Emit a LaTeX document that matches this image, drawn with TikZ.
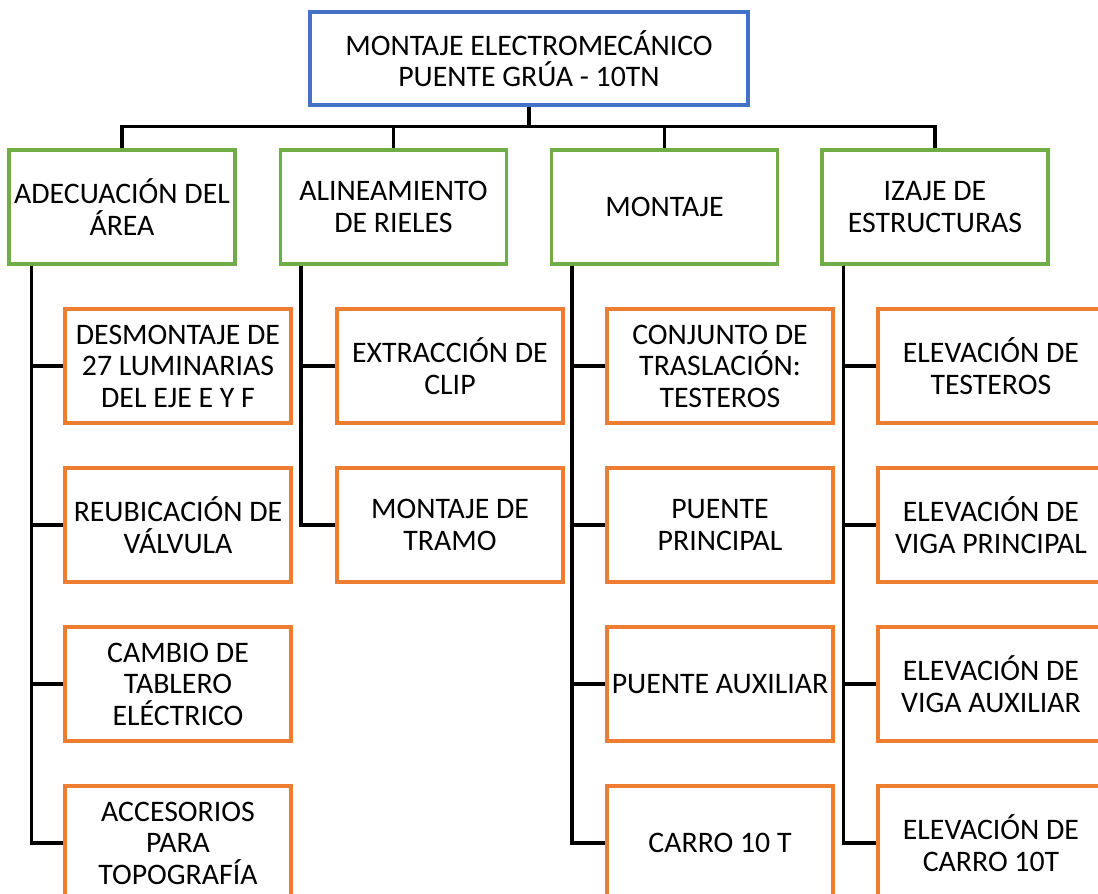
\documentclass[tikz,border=0pt]{standalone}
\usepackage{fontspec}
\setmainfont{Carlito}
\usepackage{tikz}
\usetikzlibrary{calc}

\definecolor{topblue}{HTML}{4472C4}
\definecolor{lvlgreen}{HTML}{70AD47}
\definecolor{taskorange}{HTML}{ED7D31}

\begin{document}
\begin{tikzpicture}[x=1pt, y=-1pt, line width=3.2pt,
    box/.style = {draw, rectangle, align=center, inner sep=2pt, fill=white,
        font=\fontsize{29.8pt}{31.5pt}\selectfont},
    head/.style = {box, draw=topblue, minimum width=438, minimum height=93},
    phase/.style = {box, draw=lvlgreen, minimum width=226, minimum height=114},
    task/.style = {box, draw=taskorange, minimum width=226, minimum height=114}]

    \clip (0,0) rectangle (1098,894);

    \node [head] (0) at (529, 58.5) {MONTAJE ELECTROMECÁNICO\\PUENTE GRÚA - 10TN};

    \node [phase] (1) at (122, 207) {ADECUACIÓN DEL\\ÁREA};
    \node [phase] (2) at (393.5, 207) {ALINEAMIENTO\\DE RIELES};
    \node [phase] (3) at (664.5, 207) {MONTAJE};
    \node [phase] (4) at (935, 207) {IZAJE DE\\ESTRUCTURAS};

    \node [task] (11) at (178, 366) {DESMONTAJE DE\\27 LUMINARIAS\\DEL EJE E Y F};
    \node [task] (12) at (178, 525) {REUBICACIÓN DE\\VÁLVULA};
    \node [task] (13) at (178, 684) {CAMBIO DE\\TABLERO\\ELÉCTRICO};
    \node [task] (14) at (178, 843) {ACCESORIOS\\PARA\\TOPOGRAFÍA};

    \node [task] (21) at (450, 366) {EXTRACCIÓN DE\\CLIP};
    \node [task] (22) at (450, 525) {MONTAJE DE\\TRAMO};

    \node [task] (31) at (720, 366) {CONJUNTO DE\\TRASLACIÓN:\\TESTEROS};
    \node [task] (32) at (720, 525) {PUENTE\\PRINCIPAL};
    \node [task] (33) at (720, 684) {PUENTE AUXILIAR};
    \node [task] (34) at (720, 843) {CARRO 10 T};

    \node [task] (41) at (991, 366) {ELEVACIÓN DE\\TESTEROS};
    \node [task] (42) at (991, 525) {ELEVACIÓN DE\\VIGA PRINCIPAL};
    \node [task] (43) at (991, 684) {ELEVACIÓN DE\\VIGA AUXILIAR};
    \node [task] (44) at (991, 843) {ELEVACIÓN DE\\CARRO 10T};

    % top level bus
    \draw (1.north) -- ++(0,-22) -| (0.south);
    \draw (2.north) -- ++(0,-22) -| (0.south);
    \draw (3.north) -- ++(0,-22) -| (0.south);
    \draw (4.north) -- ++(0,-22) -| (0.south);

    % branches
    \draw ([xshift=24]1.south west) |- (11.west);
    \draw ([xshift=24]1.south west) |- (12.west);
    \draw ([xshift=24]1.south west) |- (13.west);
    \draw ([xshift=24]1.south west) |- (14.west);

    \draw ([xshift=22]2.south west) |- (21.west);
    \draw ([xshift=22]2.south west) |- (22.west);

    \draw ([xshift=22]3.south west) |- (31.west);
    \draw ([xshift=22]3.south west) |- (32.west);
    \draw ([xshift=22]3.south west) |- (33.west);
    \draw ([xshift=22]3.south west) |- (34.west);

    \draw ([xshift=23]4.south west) |- (41.west);
    \draw ([xshift=23]4.south west) |- (42.west);
    \draw ([xshift=23]4.south west) |- (43.west);
    \draw ([xshift=23]4.south west) |- (44.west);

\end{tikzpicture}
\end{document}
